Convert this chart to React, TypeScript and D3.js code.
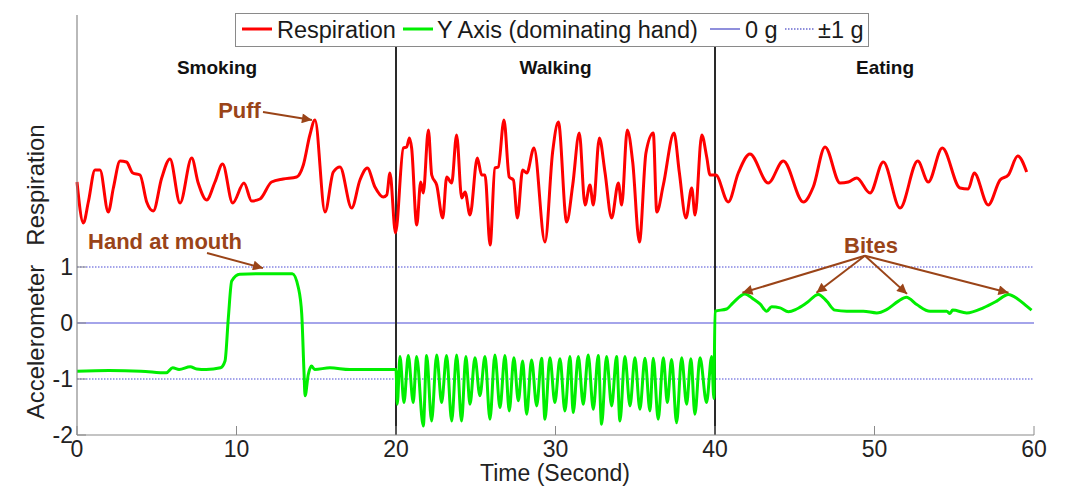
import React, { useEffect, useRef } from "react";
import * as d3 from "d3";

// respiration (arbitrary units), [time s, value]
const respSmoking: [number, number][] = [
  [0, 1.8], [0.4, -2.3], [0.71, -0.2], [1.13, 3.0], [1.44, 3.0], [1.96, -1.2], [2.28, 1.2],
  [2.7, 3.9], [3.1, 3.8], [3.5, 2.7], [3.95, 2.5], [4.37, -0.2], [4.78, -1.1], [5.31, 2.2],
  [5.83, 4.1], [6.46, -0.3], [7.19, 4.2], [7.6, 1.7], [8.13, 0], [8.65, 1.8], [9.13, 3.6],
  [9.76, -0.3], [10.47, 1.7], [10.95, -0.1], [11.47, 0.1], [12.2, 1.8], [12.93, 2.1],
  [13.77, 2.3], [14.19, 3.5], [14.6, 6.5], [14.92, 8.0], [15.55, -1.2], [16.07, 2.8],
  [16.49, 3.3], [17.22, -0.8], [17.74, 2.0], [18.2, 3.2], [18.68, 1.3], [19.2, 0.3],
  [19.42, 0.5], [19.62, 2.7], [19.97, -3.3],
];
const respWalking: [number, number][] = [
  [20.46, 5.2], [20.67, 5.3], [20.84, 6.2], [20.98, 5.2], [21.3, -2.5], [21.55, 1.8],
  [21.71, 0.7], [22.03, 7.0], [22.24, 2.5], [22.55, 1.5], [22.93, -1.8], [23.18, 2.3],
  [23.49, 1.7], [23.8, 6.5], [24.12, 0.2], [24.33, 0.8], [24.64, -1.5], [25.1, 4.2],
  [25.37, 2.5], [25.58, 2.5], [25.9, -4.5], [26.2, 3.2], [26.41, 3.3], [26.77, 8.0],
  [27.1, 2.3], [27.36, 2.0], [27.61, -1.8], [27.94, 3.0], [28.2, 2.7], [28.65, 5.2],
  [29.34, -4.2], [29.82, 4.8], [30.18, 7.8], [30.7, -2.2], [31.08, 1.5], [31.49, 6.7],
  [31.85, -0.5], [32.16, 1.5], [32.37, -0.5], [32.75, 6.2], [33.1, 2.8], [33.52, -1.8],
  [33.94, 1.7], [34.15, -0.5], [34.5, 7.0], [34.84, 3.8], [35.26, -4.2], [35.67, 4.7],
  [36.13, 6.7], [36.35, -1.2], [36.76, 1.5], [37.43, 6.7], [37.76, 2.8], [38.18, -1.8],
  [38.54, 1.2], [38.75, -1.5], [39.17, 6.5], [39.48, 4.3], [39.69, 2.5], [40.05, 2.5],
];
const respEating: [number, number][] = [
  [40.83, -0.2], [41.46, 2.7], [42.19, 4.6], [43.34, 1.7], [44.28, 3.9], [45.54, -0.2],
  [46.16, 1.3], [46.9, 5.3], [47.84, 1.7], [48.36, 1.8], [48.89, 2.2], [49.72, 0.7],
  [50.55, 3.8], [51.6, -0.8], [52.71, 3.9], [53.37, 1.8], [54.25, 5.2], [55.36, 1.2],
  [55.88, 1.1], [56.25, 2.7], [57.13, -0.5], [57.87, 2.0], [58.39, 2.5], [58.98, 4.4],
  [59.54, 2.8],
];

// accelerometer Y axis (g), [time s, value]
const accSmoking: [number, number][] = [
  [0, -0.86], [2, -0.85], [4, -0.86], [5.6, -0.89], [6.0, -0.8], [6.4, -0.83], [7.1, -0.78],
  [7.5, -0.82], [8.1, -0.83], [9.0, -0.8], [9.28, -0.68], [9.49, 0.1], [9.7, 0.75],
  [10.2, 0.87], [12, 0.88], [13.5, 0.88], [13.88, 0.63], [14.09, 0.16], [14.23, -0.86],
  [14.3, -1.3], [14.5, -0.92], [14.7, -0.77], [14.9, -0.83], [15.86, -0.8], [17.1, -0.83],
  [19.95, -0.83],
];
const accWalking: [number, number][] = [
  [20.0, -0.83], [20.08, -1.45], [20.25, -0.6], [20.5, -1.42], [20.77, -0.58], [21.08, -1.42],
  [21.29, -0.6], [21.71, -1.84], [21.92, -0.58], [22.23, -1.75], [22.55, -0.57], [22.86, -1.42],
  [23.17, -0.58], [23.49, -1.75], [23.8, -0.57], [24.11, -1.75], [24.38, -0.6], [24.64, -1.45],
  [24.95, -0.62], [25.26, -1.3], [25.58, -0.6], [25.89, -1.72], [26.2, -0.57], [26.52, -1.51],
  [26.83, -0.58], [27.1, -1.57], [27.39, -0.62], [27.67, -1.39], [27.94, -0.68], [28.19, -1.63],
  [28.5, -0.66], [28.82, -1.48], [29.13, -0.63], [29.34, -1.72], [29.65, -0.62], [29.96, -1.42],
  [30.28, -0.64], [30.59, -1.57], [30.91, -0.6], [31.11, -1.6], [31.43, -0.6], [31.74, -1.45],
  [32.05, -0.57], [32.37, -1.54], [32.68, -0.58], [32.89, -1.81], [33.2, -0.6], [33.52, -1.48],
  [33.83, -0.6], [34.04, -1.75], [34.35, -0.6], [34.67, -1.48], [34.98, -0.62], [35.29, -1.54],
  [35.61, -0.63], [35.92, -1.57], [36.13, -0.63], [36.44, -1.72], [36.76, -0.62], [37.01, -1.42],
  [37.28, -0.65], [37.59, -1.78], [37.91, -0.62], [38.22, -1.45], [38.49, -0.64], [38.74, -1.63],
  [39.06, -0.62], [39.47, -1.42], [39.79, -0.6], [39.93, -1.35],
];
const accEating: [number, number][] = [
  [40.0, 0.21], [40.73, 0.25], [41.13, 0.36], [41.88, 0.52], [42.4, 0.43], [42.82, 0.34],
  [43.24, 0.21], [43.55, 0.29], [44.08, 0.27], [44.6, 0.2], [45.12, 0.25], [45.75, 0.36],
  [46.48, 0.51], [47.0, 0.39], [47.52, 0.23], [48.26, 0.21], [49.3, 0.21], [50.14, 0.18],
  [50.76, 0.24], [51.5, 0.39], [52.0, 0.46], [52.65, 0.33], [53.48, 0.21], [54.53, 0.21],
  [54.73, 0.17], [54.9, 0.23], [55.78, 0.18], [56.82, 0.27], [57.66, 0.39], [58.39, 0.51],
  [59.02, 0.42], [59.54, 0.3], [59.85, 0.23],
];

const xTicks = [0, 10, 20, 30, 40, 50, 60];
const yTicks = [-2, -1, 0, 1];
const dottedLevels = [1, -1];
const activityBounds = [20, 40];
const activities = [
  { name: "Smoking", t: 8.78 },
  { name: "Walking", t: 30.0 },
  { name: "Eating", t: 50.66 },
];
// annotations: label position and arrows, in data units
const biteTips: [number, number][] = [[41.72, 0.54], [46.36, 0.54], [52.04, 0.52], [58.4, 0.54]];

const FONT = "'Liberation Sans', Arial, Helvetica, sans-serif";
const BROWN = "#9a4418";

export default function App() {
  const ref = useRef<HTMLDivElement>(null);

  useEffect(() => {
    const W = 1069, H = 487;
    d3.select(ref.current).select("svg").remove();

    const svg = d3.select(ref.current).append("svg")
      .attr("width", W).attr("height", H)
      .style("position", "absolute").style("left", 0).style("top", 0)
      .style("background", "#fff");

    const x = d3.scaleLinear().domain([0, 60]).range([77, 1034]);
    const y = d3.scaleLinear().domain([-2, 5.5]).range([435, 15]);
    const yResp = d3.scaleLinear().domain([-5, 10]).range([250, 100]);

    const defs = svg.append("defs");
    defs.append("marker")
      .attr("id", "arrowHead")
      .attr("viewBox", "0 0 10 10")
      .attr("refX", 10).attr("refY", 5)
      .attr("markerWidth", 13).attr("markerHeight", 10)
      .attr("markerUnits", "userSpaceOnUse")
      .attr("orient", "auto")
      .append("path").attr("d", "M0,0 L10,5 L0,10 Z").attr("fill", BROWN);

    // reference lines
    svg.append("line")
      .attr("x1", x(0)).attr("x2", x(60)).attr("y1", y(0)).attr("y2", y(0))
      .attr("stroke", "#4b4bd6").attr("stroke-width", 1.2);
    svg.selectAll(".dot1").data(dottedLevels).enter().append("line")
      .attr("x1", x(0)).attr("x2", x(60))
      .attr("y1", d => y(d)).attr("y2", d => y(d))
      .attr("stroke", "#4b4bd6").attr("stroke-width", 1.2)
      .attr("stroke-dasharray", "1.5,1.5");

    // activity boundaries
    svg.selectAll(".bound").data(activityBounds).enter().append("line")
      .attr("x1", d => x(d)).attr("x2", d => x(d))
      .attr("y1", y(5.5)).attr("y2", y(-2))
      .attr("stroke", "#2a2a2a").attr("stroke-width", 2);

    const lineResp = d3.line<[number, number]>()
      .x(d => x(d[0])).y(d => yResp(d[1])).curve(d3.curveMonotoneX);
    const lineAcc = d3.line<[number, number]>()
      .x(d => x(d[0])).y(d => y(d[1])).curve(d3.curveMonotoneX);

    const resp = [...respSmoking, ...respWalking, ...respEating];
    svg.append("path").attr("d", lineResp(resp))
      .attr("fill", "none").attr("stroke", "#ff0000").attr("stroke-width", 3)
      .attr("stroke-linejoin", "round");

    const acc = [...accSmoking, ...accWalking, ...accEating];
    svg.append("path").attr("d", lineAcc(acc))
      .attr("fill", "none").attr("stroke", "#00ee00").attr("stroke-width", 3)
      .attr("stroke-linejoin", "round");

    // axes
    const axisColor = "#8a8a8a";
    svg.append("line").attr("x1", x(0)).attr("x2", x(0)).attr("y1", y(5.5)).attr("y2", y(-2))
      .attr("stroke", axisColor).attr("stroke-width", 1.2);
    svg.append("line").attr("x1", x(0)).attr("x2", x(60)).attr("y1", y(-2)).attr("y2", y(-2))
      .attr("stroke", axisColor).attr("stroke-width", 1.2);
    svg.selectAll(".xtick").data(xTicks).enter().append("line")
      .attr("x1", d => x(d)).attr("x2", d => x(d))
      .attr("y1", y(-2)).attr("y2", y(-2) - 9)
      .attr("stroke", axisColor).attr("stroke-width", 1);
    svg.selectAll(".ytick").data(yTicks).enter().append("line")
      .attr("x1", x(0)).attr("x2", x(0) + 9)
      .attr("y1", d => y(d)).attr("y2", d => y(d))
      .attr("stroke", axisColor).attr("stroke-width", 1);

    svg.selectAll(".xlab").data(xTicks).enter().append("text")
      .attr("x", d => x(d)).attr("y", 457)
      .attr("text-anchor", "middle")
      .style("font-family", FONT).style("font-size", "23px").style("fill", "#222")
      .text(d => d);
    svg.selectAll(".ylab").data(yTicks).enter().append("text")
      .attr("x", 73).attr("y", d => y(d) + 8)
      .attr("text-anchor", "end")
      .style("font-family", FONT).style("font-size", "23px").style("fill", "#222")
      .text(d => d);

    svg.append("text")
      .attr("x", 555).attr("y", 481)
      .attr("text-anchor", "middle")
      .style("font-family", FONT).style("font-size", "23px").style("fill", "#222")
      .text("Time (Second)");
    svg.append("text")
      .attr("transform", `translate(44, ${yResp(1.5)}) rotate(-90)`)
      .attr("text-anchor", "middle")
      .style("font-family", FONT).style("font-size", "24px").style("fill", "#222")
      .text("Respiration");
    svg.append("text")
      .attr("transform", `translate(44, 342) rotate(-90)`)
      .attr("text-anchor", "middle")
      .style("font-family", FONT).style("font-size", "24px").style("fill", "#222")
      .text("Accelerometer");

    // activity names
    svg.selectAll(".act").data(activities).enter().append("text")
      .attr("x", d => x(d.t)).attr("y", y(4.45))
      .attr("text-anchor", "middle")
      .style("font-family", FONT).style("font-size", "19px").style("font-weight", "bold")
      .style("fill", "#111")
      .text(d => d.name);

    // annotations
    const arrow = (x1: number, y1: number, x2: number, y2: number) =>
      svg.append("line")
        .attr("x1", x1).attr("y1", y1).attr("x2", x2).attr("y2", y2)
        .attr("stroke", BROWN).attr("stroke-width", 2)
        .attr("marker-end", "url(#arrowHead)");
    const note = (tx: number, ty: number, label: string) =>
      svg.append("text")
        .attr("x", tx).attr("y", ty)
        .attr("text-anchor", "middle")
        .style("font-family", FONT).style("font-size", "22px").style("font-weight", "bold")
        .style("fill", BROWN)
        .text(label);

    note(x(10.19), yResp(8.2), "Puff");
    arrow(x(11.66), yResp(8.8), x(14.73), yResp(8.0));

    note(x(5.52), y(1.32), "Hand at mouth");
    arrow(x(8.15), y(1.25), x(11.66), y(0.98));

    note(x(49.78), y(1.25), "Bites");
    biteTips.forEach(d => arrow(x(49.4), y(1.2), x(d[0]), y(d[1])));

    // legend
    const lg = svg.append("g");
    lg.append("rect")
      .attr("x", 235.5).attr("y", 13.5).attr("width", 633).attr("height", 33)
      .attr("fill", "#fff").attr("stroke", "#8a8a8a").attr("stroke-width", 1);
    const items = [
      { label: "Respiration", color: "#ff0000", w: 3, dash: null, x0: 242, tx: 277 },
      { label: "Y Axis (dominating hand)", color: "#00ee00", w: 3, dash: null, x0: 403, tx: 437 },
      { label: "0 g", color: "#6a6ad0", w: 1.5, dash: null, x0: 710, tx: 745 },
      { label: "\u00b11 g", color: "#6a6ad0", w: 1.5, dash: "1.5,1.5", x0: 785, tx: 818 },
    ];
    items.forEach(it => {
      const l = lg.append("line")
        .attr("x1", it.x0).attr("x2", it.x0 + 30).attr("y1", 29).attr("y2", 29)
        .attr("stroke", it.color).attr("stroke-width", it.w);
      if (it.dash) l.attr("stroke-dasharray", it.dash);
      lg.append("text")
        .attr("x", it.tx).attr("y", 38)
        .style("font-family", FONT).style("font-size", "23.5px").style("fill", "#1a1a1a")
        .text(it.label);
    });
  }, []);

  return <div ref={ref}></div>;
}
